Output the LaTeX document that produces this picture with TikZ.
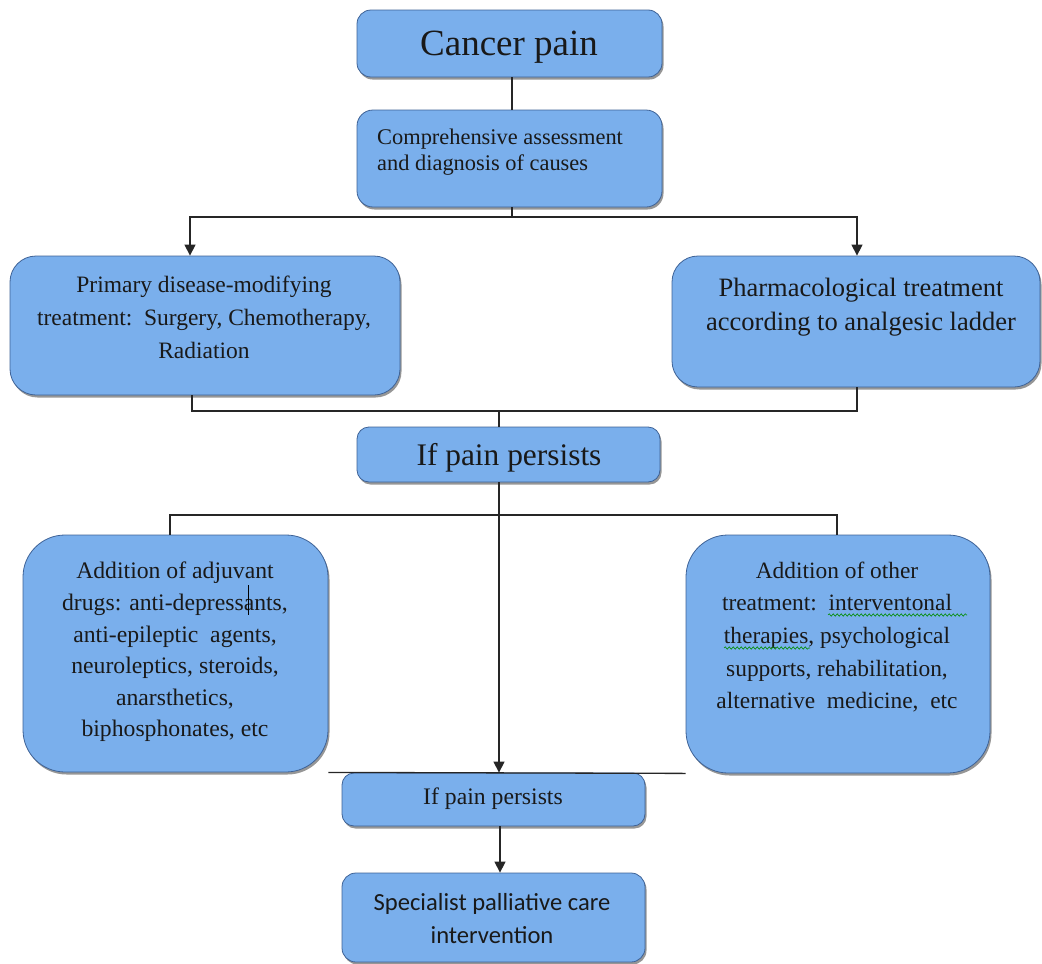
\documentclass[tikz,border=0pt]{standalone}
\usepackage{fontspec}
\setmainfont{Liberation Serif}
\newfontfamily\calib{Carlito}
\usetikzlibrary{arrows.meta,shadows,decorations.pathmorphing}
\definecolor{boxfill}{RGB}{122,175,236}
\definecolor{boxline}{RGB}{62,98,150}
\tikzset{
  box/.style={draw=boxline, line width=0.8pt, fill=boxfill, rectangle, inner sep=0pt,
    drop shadow={shadow xshift=1.5pt, shadow yshift=-2.5pt, fill=black!75, opacity=0.55}},
  conn/.style={line width=1.3pt, draw=black!85},
  arr/.style={conn, -{Triangle[width=11pt,length=11pt]}},
  lbl/.style={inner sep=0pt, align=center, text=black!90},
  squig/.style={green!55!black, line width=0.6pt, decorate,
    decoration={snake, amplitude=1.2pt, segment length=4pt}}
}
\begin{document}
\begin{tikzpicture}[x=1pt,y=-1pt]
\useasboundingbox (0,0) rectangle (1042,964);
% boxes
\node[box, rounded corners=14pt, minimum width=305pt, minimum height=67pt] (cp) at (509.5,43.5) {};
\node[box, rounded corners=16pt, minimum width=305pt, minimum height=97pt] (comp) at (509.5,158.5) {};
\node[box, rounded corners=26pt, minimum width=390pt, minimum height=139pt] (prim) at (205,325.5) {};
\node[box, rounded corners=26pt, minimum width=368pt, minimum height=131pt] (phar) at (856,321.5) {};
\node[box, rounded corners=12pt, minimum width=303pt, minimum height=55pt] (ifp1) at (508.5,454.5) {};
\node[box, rounded corners=42pt, minimum width=305pt, minimum height=237pt] (adj) at (175.5,653.5) {};
\node[box, rounded corners=42pt, minimum width=304pt, minimum height=238pt] (oth) at (838,654) {};
\node[box, rounded corners=12pt, minimum width=303pt, minimum height=53pt] (ifp2) at (493.5,799.5) {};
\node[box, rounded corners=14pt, minimum width=303pt, minimum height=89pt] (spec) at (493.5,917.5) {};
% texts
\node[lbl, font={\fontsize{37}{44}\selectfont}] (tcp) at (509,47) {Cancer pain};
\node[lbl, anchor=west, align=left, font={\fontsize{22.4}{26}\selectfont}] (tcomp) at (377,152) {Comprehensive assessment\\ and diagnosis of causes};
\node[lbl, font={\fontsize{23.5}{33}\selectfont}] (tprim) at (204,317) {Primary disease-modifying\\ treatment:\ \ Surgery, Chemotherapy,\\ Radiation};
\node[lbl, font={\fontsize{26.5}{34}\selectfont}] (tphar) at (861,307) {Pharmacological treatment\\ according to analgesic ladder};
\node[lbl, font={\fontsize{31.4}{36}\selectfont}] (tifp1) at (509,458) {If pain persists};
\node[lbl, font={\fontsize{23.7}{31.6}\selectfont}] (tadj) at (175,652) {Addition of adjuvant\\ drugs: anti-depressants,\\ anti-epileptic\ \ agents,\\ neuroleptics, steroids,\\ anarsthetics,\\ biphosphonates, etc};
\node[lbl, font={\fontsize{23.4}{32.7}\selectfont}] (toth) at (837,637) {Addition of other\\ treatment:\ \ interventonal\\ therapies, psychological\\ supports, rehabilitation,\\ alternative\ \ medicine,\ \ etc};
\node[lbl, font={\fontsize{23.7}{28}\selectfont}] (tifp2) at (493,799) {If pain persists};
\node[lbl, font={\calib\fontsize{24.6}{33}\selectfont}] (tspec) at (492,919) {Specialist palliative care\\ intervention};
% connectors
\coordinate (c1) at (512,217);
\coordinate (c1l) at (190,217);
\coordinate (c1r) at (857,217);
\draw[conn] (cp.south -| c1) -- (comp.north -| c1);
\draw[conn] (comp.south -| c1) -- (c1);
\draw[arr] (c1) -- (c1l) -- (prim.north -| c1l);
\draw[arr] (c1) -- (c1r) -- (phar.north -| c1r);
\coordinate (c2l) at (192,411);
\coordinate (c2r) at (857,411);
\coordinate (c2) at (499,411);
\draw[conn] (prim.south -| c2l) -- (c2l) -- (c2r) -- (phar.south -| c2r);
\draw[conn] (c2) -- (ifp1.north -| c2);
\coordinate (c3) at (499,515);
\coordinate (c3l) at (170,515);
\coordinate (c3r) at (837,515);
\draw[arr] (ifp1.south -| c3) -- (ifp2.north -| c3);
\draw[conn] (adj.north -| c3l) -- (c3l) -- (c3r) -- (oth.north -| c3r);
\draw[conn] (adj.south east) -- (oth.south west);
\coordinate (c4) at (500,0);
\draw[arr] (ifp2.south -| c4) -- (spec.north -| c4);
% stray mark and spell-check underlines
\coordinate (s1) at (248,585);
\coordinate (s2) at (248,615);
\draw[line width=1pt] (s1) -- (s2);
\coordinate (g1a) at (828,615);
\coordinate (g1b) at (967,615);
\coordinate (g2a) at (724,648);
\coordinate (g2b) at (810,648);
\draw[squig] (g1a) -- (g1b);
\draw[squig] (g2a) -- (g2b);
\end{tikzpicture}
\end{document}
